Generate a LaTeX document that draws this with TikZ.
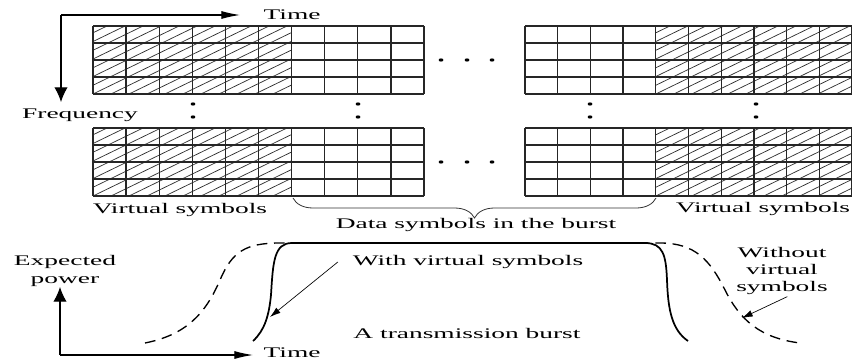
\documentclass[tikz,border=0pt]{standalone}
\usepackage{fontspec}
\setmainfont{Liberation Serif}
\usepackage{graphicx}
\usetikzlibrary{arrows.meta,decorations.pathreplacing}
\newcommand{\wide}[1]{\scalebox{1.87}[1]{#1}}
% left x, top y, column width, hatched from, hatched to
\newcommand{\symgrid}[5]{%
	\begin{scope}
		\clip (#4,#2) rectangle (#5,#2+68);
		\foreach \hc in {-162,-144,...,234}
			\draw[hatchline] (#4+\hc,#2+68) -- ++(140,-68);
	\end{scope}
	\foreach \row in {0,...,4}
		\draw[gridline] (#1,#2+\row*17) -- ++(10*#3,0);
	\foreach \col in {0,...,10}
		\draw[gridline] (#1+\col*#3,#2) -- ++(0,68);
}
\tikzset{
	gridline/.style={line width=0.95pt, black!85},
	hatchline/.style={line width=0.55pt, black!80},
	lbl/.style={font=\fontsize{11}{13}\selectfont, inner sep=1pt, align=center},
	hax/.style={-{Latex[length=14pt,width=6pt]}, line width=0.8pt},
	vax/.style={-{Latex[length=11pt,width=10pt]}, line width=0.8pt},
	pointer/.style={-{Latex[length=8pt,width=5pt]}, line width=0.5pt},
	burst/.style={line width=1.3pt},
	noburst/.style={line width=1pt, dash pattern=on 8pt off 5pt}
}
\begin{document}
\begin{tikzpicture}[x=0.75pt,y=-0.75pt]
	\useasboundingbox (0,0) rectangle (852,360);

	\symgrid{93}{26}{33.1}{93}{291.6}
	\symgrid{525}{26}{32.7}{655.8}{852}
	\symgrid{93}{128}{33.1}{93}{291.6}
	\symgrid{525}{128}{32.7}{655.8}{852}

	\foreach \x in {441,467,492} {
		\fill (\x,60) ellipse (2.4 and 1.6);
		\fill (\x,162) ellipse (2.4 and 1.6);
	}
	\foreach \x in {193,358,590,756} {
		\fill (\x,104) ellipse (2.4 and 1.6);
		\fill (\x,117) ellipse (2.4 and 1.6);
	}

	\coordinate (fcorner) at (61,15);
	\coordinate (ftip) at (61,102);
	\coordinate (ttip) at (240,15);
	\draw[hax] (fcorner) -- (ttip);
	\draw[vax] (fcorner) -- (ftip);
	\node[lbl,anchor=west] (timetop) at (262,15) {\wide{Time}};
	\node[lbl] (freqlbl) at (80,115) {\wide{Frequency}};

	\node[lbl] (virtleft) at (180,210) {\wide{Virtual symbols}};
	\node[lbl] (virtright) at (763,209) {\wide{Virtual symbols}};
	\coordinate (braceL) at (293,198);
	\coordinate (braceR) at (656,198);
	\draw[line width=0.6pt, black!80, decorate, decoration={brace, mirror, amplitude=15pt}] (braceL) -- (braceR);
	\node[lbl] (datalbl) at (476,225) {\wide{Data symbols in the burst}};

	\coordinate (pcorner) at (60,355);
	\coordinate (ptip) at (60,287);
	\coordinate (ttip2) at (253,355);
	\draw[vax] (pcorner) -- (ptip);
	\draw[hax] (pcorner) -- (ttip2);
	\node[lbl,anchor=west] (timebot) at (262,353) {\wide{Time}};
	\node[lbl] (powlbl) at (65,271) {\wide{Expected}\\\wide{power}};

	\draw[noburst] (145,343) .. controls (185,335) and (205,315) .. (220,280)
		.. controls (232,252) and (245,243) .. (280,243) -- (660,243)
		.. controls (695,243) and (710,260) .. (725,290)
		.. controls (740,320) and (760,338) .. (800,343);
	\draw[burst] (253,341) .. controls (265,330) and (269,315) .. (271,295)
		.. controls (273,262) and (274,243) .. (292,243) -- (645,243)
		.. controls (663,243) and (666,255) .. (667,280)
		.. controls (668,310) and (672,330) .. (688,341);

	\node[lbl] (withlbl) at (468,262) {\wide{With virtual symbols}};
	\node[lbl] (burstlbl) at (467,333) {\wide{A transmission burst}};
	\node[lbl] (wolbl) at (782,271) {\wide{Without}\\\wide{virtual}\\\wide{symbols}};
	\coordinate (solidpt) at (270,317);
	\coordinate (dashpt) at (742,318);
	\draw[pointer] ([xshift=-10pt]withlbl.west) -- (solidpt);
	\draw[pointer] ([xshift=4pt]wolbl.south) -- (dashpt);
\end{tikzpicture}
\end{document}
